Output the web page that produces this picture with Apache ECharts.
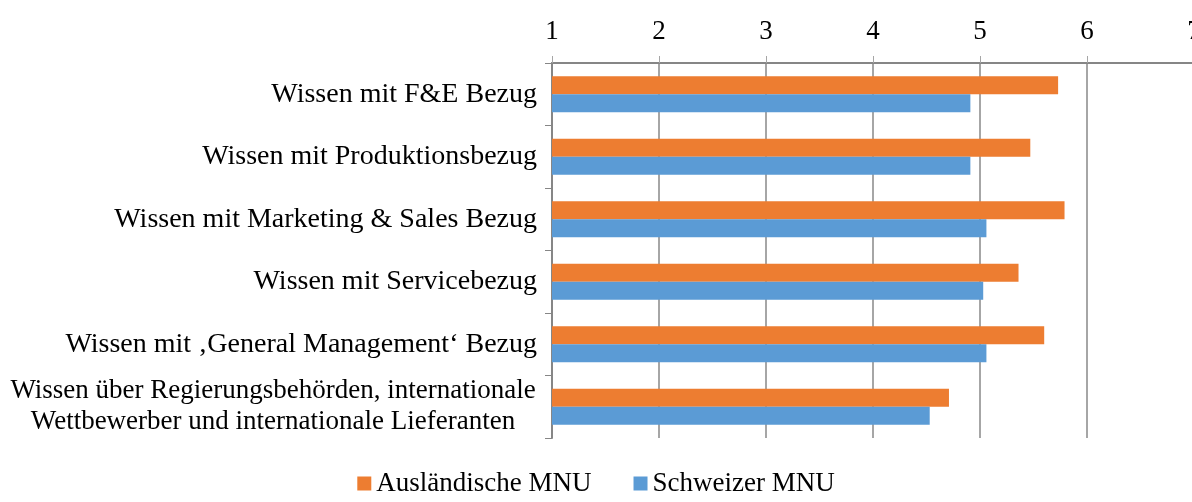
<!DOCTYPE html>
<html>
<head>
<meta charset="utf-8">
<script src="https://cdn.jsdelivr.net/npm/echarts@6/dist/echarts.min.js"></script>
<style>
html,body{margin:0;padding:0;background:#fff;}
#chart{width:1192px;height:502px;}
</style>
</head>
<body>
<div id="chart"></div>
<script>
const categories = [
  'Wissen mit F&E Bezug',
  'Wissen mit Produktionsbezug',
  'Wissen mit Marketing & Sales Bezug',
  'Wissen mit Servicebezug',
  'Wissen mit \u201aGeneral Management\u2018 Bezug',
  'Wissen über Regierungsbehörden, internationale\nWettbewerber und internationale Lieferanten'
];
const auslaendische = [5.73, 5.47, 5.79, 5.36, 5.60, 4.71];
const schweizer = [4.91, 4.91, 5.06, 5.03, 5.06, 4.53];
const seriesNames = ['Ausländische MNU', 'Schweizer MNU'];
const xTicks = [1, 2, 3, 4, 5, 6, 7];

const font = '"Liberation Serif", "Times New Roman", serif';
const chart = echarts.init(document.getElementById('chart'));
chart.setOption({
  animation: false,
  backgroundColor: '#ffffff',
  legend: {
    data: seriesNames,
    bottom: 0,
    left: 'center',
    itemWidth: 14,
    itemHeight: 14,
    itemGap: 42,
    icon: 'rect',
    textStyle: { fontFamily: font, fontSize: 27, color: '#000' }
  },
  grid: { left: 552, top: 63, right: -2, bottom: 64, containLabel: false, outerBoundsMode: 'none' },
  xAxis: {
    type: 'value',
    position: 'top',
    min: xTicks[0],
    max: xTicks[xTicks.length - 1],
    interval: 1,
    axisLine: { show: true, lineStyle: { color: '#868686', width: 2 } },
    axisTick: { show: true, length: 7, lineStyle: { color: '#a6a6a6', width: 1 } },
    axisLabel: { fontFamily: font, fontSize: 27, color: '#000', margin: 18, hideOverlap: false },
    splitLine: { show: true, lineStyle: { color: '#a6a6a6', width: 2 } }
  },
  yAxis: {
    type: 'category',
    inverse: true,
    data: categories,
    axisLine: { show: true, lineStyle: { color: '#868686', width: 2 } },
    axisTick: { show: true, length: 7, lineStyle: { color: '#868686' } },
    axisLabel: {
      fontFamily: font, fontSize: 28, color: '#000', margin: 15, lineHeight: 31,
      formatter: function (v) {
        if (v.indexOf('\n') >= 0) {
          return v.split('\n').map(function (l) { return '{c|' + l + '}'; }).join('\n');
        }
        return v;
      },
      rich: { c: { fontFamily: font, fontSize: 27, color: '#000', width: 528, align: 'center', lineHeight: 31 } }
    }
  },
  series: [
    { name: seriesNames[0], type: 'bar', data: auslaendische, barWidth: 18, barGap: '0%',
      itemStyle: { color: '#ED7D31' } },
    { name: seriesNames[1], type: 'bar', data: schweizer, barWidth: 18, barGap: '0%',
      itemStyle: { color: '#5B9BD5' } }
  ]
});
</script>
</body>
</html>
